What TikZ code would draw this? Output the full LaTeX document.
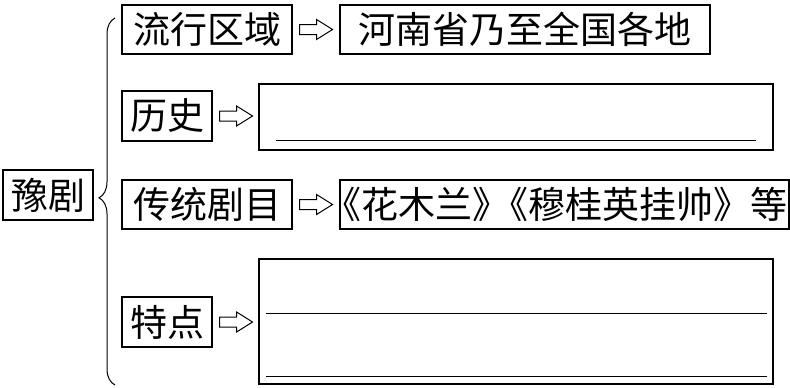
\documentclass[tikz,border=0pt]{standalone}
\usepackage{fontspec}
\newfontfamily\cjk{Noto Sans CJK SC}
\usetikzlibrary{calc,decorations.pathreplacing}
\newcommand{\hollowarrow}[1]{%
  \draw[arrline] ($(#1.east)+(7,-5)$) -- ++(17,0) -- ++(0,-5) -- ++(16,10)
    -- ++(-16,10) -- ++(0,-5) -- ++(-17,0) -- cycle;}

\begin{document}
\begin{tikzpicture}[x=1pt, y=-1pt,
    box/.style={draw, line width=1.1pt, inner sep=0pt, minimum height=49,
      font=\cjk\fontsize{37}{40}\selectfont},
    blank/.style={draw, line width=1.1pt, inner sep=0pt},
    arrline/.style={line width=1pt},
    rule/.style={line width=1pt}]
  \useasboundingbox[fill=white] (0,0) rectangle (790,388);
  % root
  \node[box, minimum width=90, minimum height=50] (yuju) at (48,195) {豫剧};
  \draw[line width=1pt, decorate, decoration={brace, amplitude=16, aspect=0.51}]
    (115,385) -- (115,18);
  % row 1
  \node[box, minimum width=170] (liuxing) at (207,29.5) {流行区域};
  \node[box, minimum width=370] (quyu) at (525,29.5) {河南省乃至全国各地};
  \hollowarrow{liuxing}
  % row 2
  \node[box, minimum width=90, minimum height=50] (lishi) at (167,116) {历史};
  \node[blank, minimum width=514, minimum height=66] (lsbox) at (516,117) {};
  \hollowarrow{lishi}
  \draw[rule] ($(lsbox.south west)+(18,-10)$) -- ($(lsbox.south east)+(-18,-10)$);
  % row 3
  \node[box, minimum width=170] (jumu) at (207,204.5) {传统剧目};
  \node[box, minimum width=449] (jmbox) at (564.5,204.5)
    {\kern-.45em《花木兰》\kern-.5em《穆桂英挂帅》等};
  \hollowarrow{jumu}
  % row 4
  \node[box, minimum width=90, minimum height=50] (tedian) at (167,322) {特点};
  \node[blank, minimum width=514, minimum height=125] (tdbox) at (516,321.5) {};
  \hollowarrow{tedian}
  \draw[rule] ($(tdbox.north west)+(8,55)$) -- ($(tdbox.north east)+(-7,55)$);
  \draw[rule] ($(tdbox.south west)+(8,-8)$) -- ($(tdbox.south east)+(-7,-8)$);
\end{tikzpicture}
\end{document}
